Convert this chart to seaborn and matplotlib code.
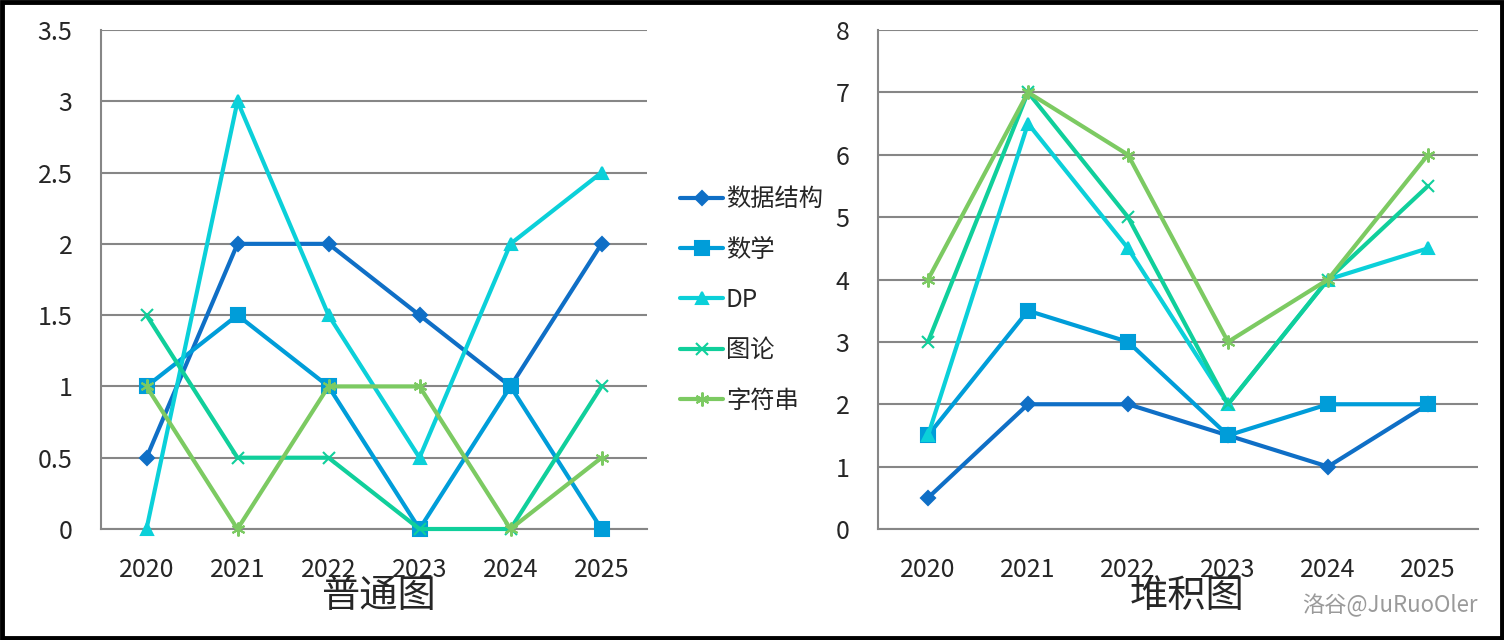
import numpy as np
import pandas as pd
import matplotlib
matplotlib.use('Agg')
import matplotlib.pyplot as plt
import matplotlib.patches as mpatches
import seaborn as sns

years = ['2020', '2021', '2022', '2023', '2024', '2025']
names = ['数据结构', '数学', 'DP', '图论', '字符串']
ds = [0.5, 2, 2, 1.5, 1, 2]
math = [1, 1.5, 1, 0, 1, 0]
dp = [0, 3, 1.5, 0.5, 2, 2.5]
graph = [1.5, 0.5, 0.5, 0, 0, 1]
string = [1, 0, 1, 1, 0, 0.5]

colors = ['#0F6FC6', '#009DD9', '#0BD0D9', '#10CF9B', '#7CCA62']
markers = ['D', 's', '^', 'x', (6, 2, 0)]
msizes = [7, 10, 9, 9, 10]

sns.set_style('white')
plt.rcParams['font.family'] = ['Noto Sans CJK SC', 'DejaVu Sans']

series = [ds, math, dp, graph, string]
stacked = np.cumsum(np.array(series), axis=0)

fig = plt.figure(figsize=(15.04, 6.4), dpi=100)
ax1 = fig.add_axes([101 / 1504, 111 / 640, 546 / 1504, 499 / 640])
ax2 = fig.add_axes([878 / 1504, 111 / 640, 600 / 1504, 499 / 640])

pos = np.arange(len(years))


def style_axis(ax, ymax, step):
    ax.set_xlim(-0.5, len(years) - 0.5)
    ax.set_ylim(0, ymax)
    ax.set_yticks(np.arange(0, ymax + step / 2, step))
    ax.set_yticklabels(['%g' % v for v in np.arange(0, ymax + step / 2, step)])
    ax.set_xticks(pos)
    ax.set_xticklabels(years)
    ax.set_xticks(np.arange(-0.5, len(years)), minor=True)
    ax.tick_params(axis='x', which='major', length=0, pad=20, labelsize=18)
    ax.tick_params(axis='x', which='minor', length=6, width=1.5, color='#868686', direction='out')
    ax.tick_params(axis='y', length=6.5, width=1.5, color='#868686', labelsize=18, pad=14)
    ax.grid(axis='y', color='#868686', linewidth=1.5)
    ax.set_axisbelow(True)
    for s in ['top', 'right']:
        ax.spines[s].set_visible(False)
    for s in ['left', 'bottom']:
        ax.spines[s].set_color('#868686')
        ax.spines[s].set_linewidth(1.5)
    ax.set_xlabel('')
    ax.set_ylabel('')


for vals, name, c, m, ms in zip(series, names, colors, markers, msizes):
    sns.lineplot(x=pos, y=vals, ax=ax1, color=c, marker=m, markersize=ms,
                 linewidth=3, markeredgecolor=c, markeredgewidth=1.5,
                 label=name, clip_on=False, zorder=3)

for vals, name, c, m, ms in zip(stacked, names, colors, markers, msizes):
    sns.lineplot(x=pos, y=vals, ax=ax2, color=c, marker=m, markersize=ms,
                 linewidth=3, markeredgecolor=c, markeredgewidth=1.5,
                 legend=False, clip_on=False, zorder=3)

style_axis(ax1, 3.5, 0.5)
style_axis(ax2, 8, 1)

handles, labels = ax1.get_legend_handles_labels()
ax1.get_legend().remove()
fig.legend(handles, labels, loc='center left', bbox_to_anchor=(670 / 1504, 1 - 300 / 640),
           frameon=False, fontsize=17.5, labelspacing=1.0, handlelength=1.8,
           handletextpad=0.1, borderaxespad=0)

fig.text(378 / 1504, 1 - 596 / 640, '普通图', ha='center', va='center', fontsize=27.5)
fig.text(1187 / 1504, 1 - 596 / 640, '堆积图', ha='center', va='center', fontsize=27.5)
fig.text(1390 / 1504, 1 - 605 / 640, '洛谷@JuRuoOler', ha='center', va='center',
         fontsize=16, color='#9a9a9a')

fig.patches.append(mpatches.Rectangle((0.0013, 0.003), 0.9974, 0.994, transform=fig.transFigure,
                                      fill=False, edgecolor='black', linewidth=3.5))

fig.savefig('out.png', dpi=100)
